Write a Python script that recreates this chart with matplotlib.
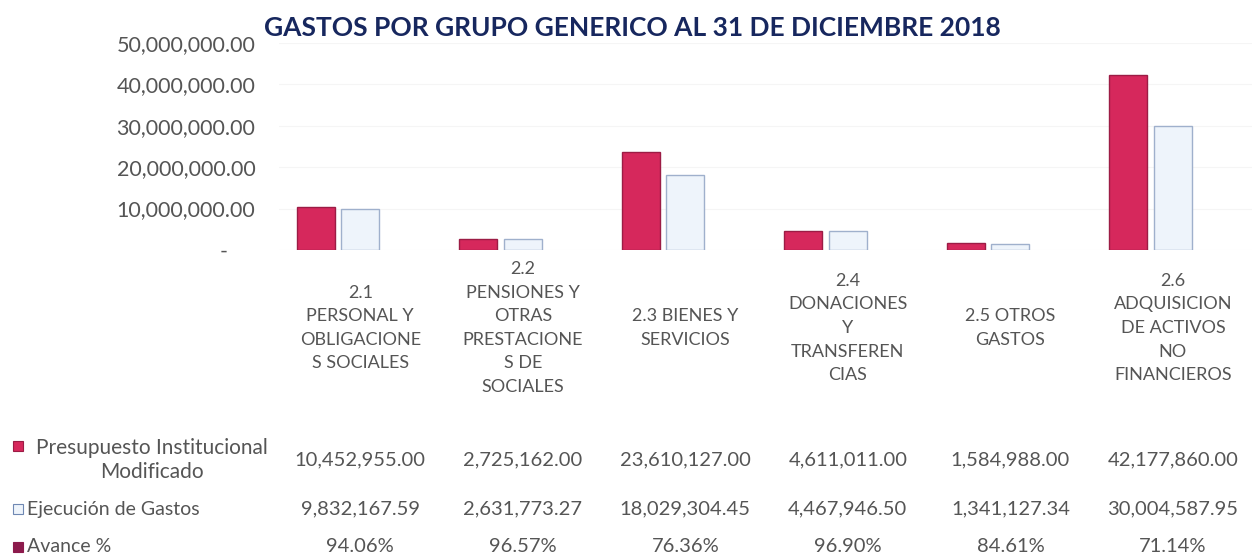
import numpy as np
import matplotlib
matplotlib.use('Agg')
import matplotlib.pyplot as plt
from matplotlib.transforms import blended_transform_factory
from matplotlib.patches import Rectangle

categories = [
    "2.1\nPERSONAL Y\nOBLIGACIONE\nS SOCIALES",
    "2.2\nPENSIONES Y\nOTRAS\nPRESTACIONE\nS DE\nSOCIALES",
    "2.3 BIENES Y\nSERVICIOS",
    "2.4\nDONACIONES\nY\nTRANSFEREN\nCIAS",
    "2.5 OTROS\nGASTOS",
    "2.6\nADQUISICION\nDE ACTIVOS\nNO\nFINANCIEROS",
]
presupuesto = [10452955.00, 2725162.00, 23610127.00, 4611011.00, 1584988.00, 42177860.00]
ejecucion = [9832167.59, 2631773.27, 18029304.45, 4467946.50, 1341127.34, 30004587.95]
avance = [0.9406, 0.9657, 0.7636, 0.9690, 0.8461, 0.7114]
y_ticks = [0, 10000000, 20000000, 30000000, 40000000, 50000000]

title = "GASTOS POR GRUPO GENERICO AL 31 DE DICIEMBRE 2018"
series_names = ["Presupuesto Institucional\nModificado", "Ejecución de Gastos", "Avance %"]

plt.rcParams['font.family'] = ['Lato', 'DejaVu Sans']
text_col = '#555555'
red = '#d6285c'
light = '#eef4fb'
dark = '#8c1a4c'

fig = plt.figure(figsize=(12.52, 5.58), dpi=100)
ax = fig.add_axes([0.2228, 0.552, 0.779, 0.371])

x = np.arange(len(categories))
w = 0.234
step = 0.274
ax.bar(x - step, presupuesto, w, color=red, edgecolor='#9c1c45', linewidth=1.0, zorder=3)
ax.bar(x, ejecucion, w, color=light, edgecolor='#9fb0cc', linewidth=1.0, zorder=3)
ax.bar(x + step, avance, w, color=dark, zorder=3)

ax.set_xlim(-0.5, len(categories) - 0.5)
ax.set_ylim(0, 50000000)
ax.set_yticks(y_ticks)
ax.set_yticklabels(["-     "] + [f"{v:,.2f}" for v in y_ticks[1:]], fontsize=15.5, color=text_col)
ax.tick_params(axis='y', length=0, pad=17)
ax.set_xticks([])
ax.grid(axis='y', color='#f5f5f5', linewidth=0.8, zorder=0)
for s in ax.spines.values():
    s.set_visible(False)

fig.text(0.505, 0.95, title, ha='center', va='center', fontsize=19,
         fontweight='bold', color='#17275e')

# data table below the chart
tr = blended_transform_factory(ax.transData, fig.transFigure)
for i, lab in enumerate(categories):
    ax.text(x[i], 1 - 328 / 558, lab, transform=tr, ha='center', va='center',
            fontsize=13, color=text_col, linespacing=1.58, clip_on=False)

row_y = [1 - 460 / 558, 1 - 509 / 558, 1 - 547 / 558]
for i in range(len(categories)):
    ax.text(x[i], row_y[0], f"{presupuesto[i]:,.2f}", transform=tr, ha='center', va='center',
            fontsize=14.5, color=text_col, clip_on=False)
    ax.text(x[i], row_y[1], f"{ejecucion[i]:,.2f}", transform=tr, ha='center', va='center',
            fontsize=14.5, color=text_col, clip_on=False)
    ax.text(x[i], row_y[2], f"{avance[i] * 100:.2f}%", transform=tr, ha='center', va='center',
            fontsize=14.5, color=text_col, clip_on=False)

# row headers with legend keys
fig.text(152 / 1252, row_y[0], series_names[0], ha='center', va='center',
         fontsize=15, color=text_col, linespacing=1.3)
fig.text(27 / 1252, row_y[1], series_names[1], ha='left', va='center', fontsize=14, color=text_col)
fig.text(27 / 1252, row_y[2], series_names[2], ha='left', va='center', fontsize=14, color=text_col)
key_specs = [(1 - 446 / 558, red, '#9c1c45'), (row_y[1], light, '#6f88b3'), (row_y[2], dark, dark)]
for ky, fc, ec in key_specs:
    fig.patches.append(Rectangle((13 / 1252, ky - 5 / 558), 10 / 1252, 10 / 558,
                                 transform=fig.transFigure, facecolor=fc, edgecolor=ec,
                                 linewidth=0.8))

fig.savefig('out.png', dpi=100, facecolor='white')
